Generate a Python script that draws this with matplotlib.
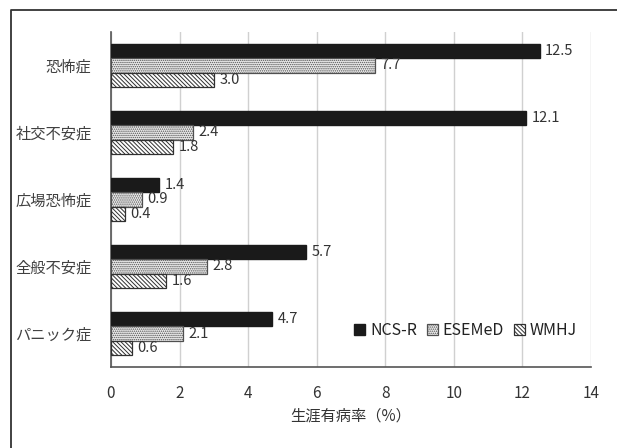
import numpy as np
import matplotlib
matplotlib.use('Agg')
import matplotlib.pyplot as plt
from matplotlib.lines import Line2D

plt.rcParams['font.family'] = ['Noto Sans CJK JP', 'DejaVu Sans']
plt.rcParams['hatch.linewidth'] = 0.7

# データ（上から順）
categories = ['恐怖症', '社交不安症', '広場恐怖症', '全般不安症', 'パニック症']
ncs_r = [12.5, 12.1, 1.4, 5.7, 4.7]
esemed = [7.7, 2.4, 0.9, 2.8, 2.1]
wmhj = [3.0, 1.8, 0.4, 1.6, 0.6]
series_names = ['NCS-R', 'ESEMeD', 'WMHJ']
xticks = [0, 2, 4, 6, 8, 10, 12, 14]

fig = plt.figure(figsize=(6.17, 4.48), dpi=100)
ax = fig.add_axes([0.1799, 0.1808, 0.778, 0.7478])

y = np.arange(len(categories))
h = 0.21
b1 = ax.barh(y - h, ncs_r, height=h, color='#1a1a1a', edgecolor='#1a1a1a',
             label=series_names[0], zorder=3)
b2 = ax.barh(y, esemed, height=h, color='#eeeeee', edgecolor='#505050',
             hatch='........', linewidth=0.9, label=series_names[1], zorder=3)
b3 = ax.barh(y + h, wmhj, height=h, color='white', edgecolor='#303030',
             hatch='\\\\\\\\\\\\\\\\', linewidth=0.9, label=series_names[2], zorder=3)

for bars in (b1, b2, b3):
    ax.bar_label(bars, fmt='%.1f', padding=4, fontsize=10.5, color='#333333')

ax.set_yticks(y)
ax.set_yticklabels(categories, fontsize=11, color='#404040')
ax.set_ylim(len(categories) - 0.5, -0.5)
ax.set_xlim(0, 14)
ax.set_xticks(xticks)
ax.set_xticklabels([str(t) for t in xticks], fontsize=11, color='#333333')
ax.tick_params(axis='both', length=0)
ax.tick_params(axis='x', pad=13)
ax.tick_params(axis='y', pad=14)
ax.grid(axis='x', color='#d0d0d0', linewidth=1, zorder=0)
ax.set_axisbelow(True)
for s in ('top', 'right'):
    ax.spines[s].set_visible(False)
ax.spines['left'].set_color('#555555')
ax.spines['bottom'].set_color('#555555')
ax.spines['left'].set_linewidth(1.2)
ax.spines['bottom'].set_linewidth(1.2)

ax.set_xlabel('生涯有病率（%）', fontsize=11, color='#333333', labelpad=4)

ax.legend(loc='lower right', bbox_to_anchor=(1.0, 0.04), ncol=3, frameon=False,
          fontsize=11.5, handlelength=0.7, handleheight=0.7, handletextpad=0.3,
          columnspacing=0.6, labelcolor='#222222')

# 外枠（上と左のみ見える）
fig.add_artist(Line2D([11 / 617, 11 / 617, 1.0], [0.0, 1 - 10 / 448, 1 - 10 / 448],
                      color='#333333', linewidth=1.3, transform=fig.transFigure))

fig.savefig('out.png', dpi=100)
